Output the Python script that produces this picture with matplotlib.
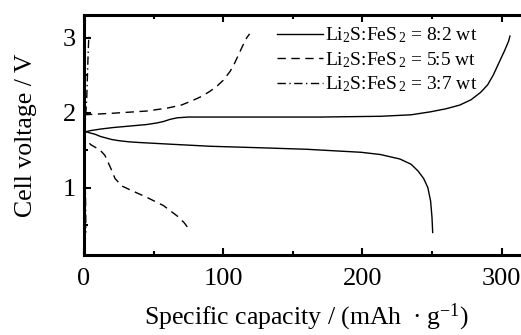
import matplotlib

matplotlib.use("Agg")
import matplotlib.pyplot as plt
from matplotlib.ticker import MultipleLocator

plt.rcParams.update({
    "font.family": "Liberation Serif",
    "mathtext.fontset": "custom",
    "mathtext.rm": "Liberation Serif",
    "mathtext.it": "Liberation Serif:italic",
    "font.size": 19,
})

# 8:2 wt  (charge / discharge)
cap82_ch = [0, 5, 12, 21, 33, 45, 52, 57, 62, 67, 75, 91, 127, 170, 213, 235,
            249, 260, 270, 278, 285, 290, 294, 298, 302, 305, 306]
v82_ch = [1.74, 1.76, 1.78, 1.80, 1.82, 1.84, 1.86, 1.88, 1.91, 1.93, 1.94, 1.94,
          1.94, 1.94, 1.95, 1.97, 2.01, 2.05, 2.10, 2.17, 2.27, 2.37, 2.50, 2.66,
          2.82, 2.95, 3.02]
cap82_dis = [0, 4, 8, 12, 16, 20, 25, 32, 40, 50, 65, 91, 127, 160, 199, 213,
             227, 235, 240, 244, 247, 249, 250, 250.5]
v82_dis = [1.75, 1.73, 1.71, 1.68, 1.66, 1.64, 1.625, 1.61, 1.60, 1.59, 1.575,
           1.55, 1.53, 1.51, 1.47, 1.44, 1.38, 1.31, 1.22, 1.12, 1.00, 0.82,
           0.60, 0.40]

# 5:5 wt
cap55_ch = [0, 20, 45, 60, 70, 78, 85, 91, 96, 100, 105, 108, 111, 114, 117, 119]
v55_ch = [1.97, 1.99, 2.02, 2.06, 2.10, 2.16, 2.22, 2.29, 2.36, 2.43, 2.55, 2.65,
          2.77, 2.89, 3.00, 3.05]
cap55_dis = [0, 1, 5, 11.5, 15, 18.7, 22.3, 27.3, 33, 45, 57, 67, 72, 76]
v55_dis = [1.75, 1.64, 1.57, 1.50, 1.43, 1.28, 1.12, 1.02, 0.97, 0.87, 0.76, 0.62,
           0.53, 0.43]

# 3:7 wt
cap37_ch = [0, 1, 2, 2.5, 3, 3.5]
v37_ch = [1.75, 1.9, 2.2, 2.5, 2.8, 3.02]
cap37_dis = [0, 0.5, 1, 1.2, 1.4]
v37_dis = [1.75, 1.4, 1.0, 0.7, 0.4]

labels = [r"Li$_2$S:FeS$_{\,2}$ = 8:2 wt",
          r"Li$_2$S:FeS$_{\,2}$ = 5:5 wt",
          r"Li$_2$S:FeS$_{\,2}$ = 3:7 wt"]

fig = plt.figure(figsize=(5.21, 3.35), dpi=100)
ax = fig.add_axes([0.1612, 0.2388, 0.855, 0.7162])

lw = 1.0
DASH = (6, 4)
DASHDOT = (6, 2.5, 1, 2.5)
ax.plot(cap82_ch, v82_ch, color="black", lw=lw, label=labels[0])
ax.plot(cap82_dis, v82_dis, color="black", lw=lw)
ax.plot(cap55_ch, v55_ch, color="black", lw=lw, dashes=DASH, label=labels[1])
ax.plot(cap55_dis, v55_dis, color="black", lw=lw, dashes=DASH)
ax.plot(cap37_ch, v37_ch, color="black", lw=lw, dashes=DASHDOT, label=labels[2])
ax.plot(cap37_dis, v37_dis, color="black", lw=lw, dashes=DASHDOT)

ax.set_xlim(0, 320)
ax.set_ylim(0.1, 3.3)
ax.xaxis.set_major_locator(MultipleLocator(100))
ax.xaxis.set_minor_locator(MultipleLocator(50))
ax.yaxis.set_major_locator(MultipleLocator(1))
ax.yaxis.set_minor_locator(MultipleLocator(0.5))
ax.tick_params(which="both", direction="in", top=True, right=False, width=1.5)
ax.tick_params(which="major", length=5, pad=6)
ax.tick_params(axis="x", which="major", pad=9)
ax.tick_params(which="minor", length=3)
for s in ("left", "bottom", "top"):
    ax.spines[s].set_linewidth(2.2)
ax.spines["right"].set_visible(False)

ax.set_xlabel(r"Specific capacity / (mAh  $\bullet$ g$^{-1}$)", fontsize=18.5,
              labelpad=9)
ax.set_ylabel("Cell voltage / V", fontsize=18.5, labelpad=18)

ax.legend(loc="upper right", bbox_to_anchor=(0.91, 1.005), frameon=False,
          fontsize=14, handlelength=2.4, handletextpad=0.1, labelspacing=0.25,
          borderaxespad=0.2)

fig.savefig("out.png", dpi=100)
